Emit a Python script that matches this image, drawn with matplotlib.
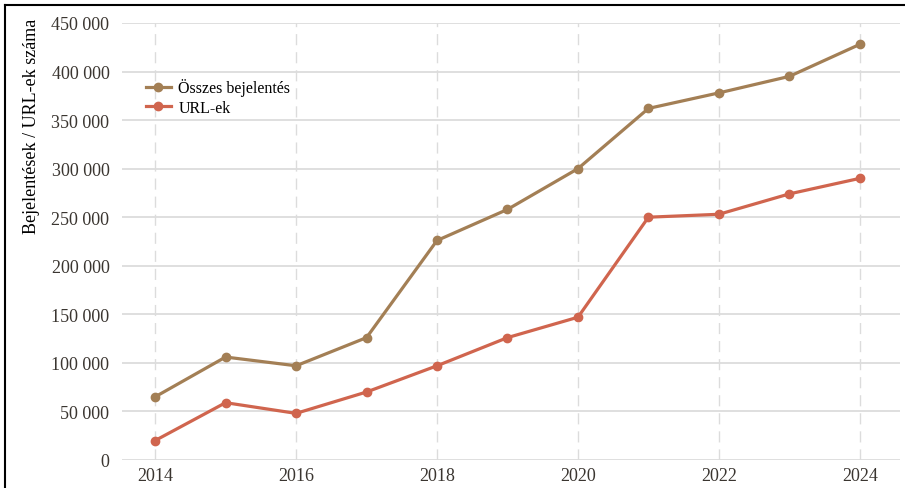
import matplotlib.pyplot as plt
from matplotlib.lines import Line2D
from matplotlib.ticker import FuncFormatter

# Yearly counts
years = [2014, 2015, 2016, 2017, 2018, 2019, 2020, 2021, 2022, 2023, 2024]
osszes = [65000, 106000, 97000, 126000, 226000, 258000, 300000, 362000,
          378000, 395000, 428000]
url_ek = [20000, 59000, 48000, 70000, 97000, 126000, 147000, 250000,
          253000, 274000, 290000]
x_ticks = [2014, 2016, 2018, 2020, 2022, 2024]
y_ticks = [0, 50000, 100000, 150000, 200000, 250000, 300000, 350000,
           400000, 450000]


def space_thousands(value, pos):
    """Format a number with a space as the thousands separator"""
    return "{:,.0f}".format(value).replace(",", " ")


plt.rcParams["font.family"] = ["Liberation Serif", "DejaVu Serif"]

fig = plt.figure(figsize=(9.05, 4.89), dpi=100)
ax = fig.add_axes([0.1348, 0.0573, 0.8597, 0.8937])

ax.plot(years, osszes, color="#A37F55", linewidth=2.3, marker="o",
        markersize=6, label="Összes bejelentés", zorder=3)
ax.plot(years, url_ek, color="#D0654E", linewidth=2.3, marker="o",
        markersize=6, label="URL-ek", zorder=3)

ax.set_xlim(2013.53, 2024.57)
ax.set_ylim(0, 450000)
ax.set_xticks(x_ticks)
ax.set_yticks(y_ticks)
ax.yaxis.set_major_formatter(FuncFormatter(space_thousands))

# Horizontal grid solid, vertical grid dashed
ax.grid(axis="y", color="#dcdcdc", linewidth=1.3, linestyle="-")
ax.grid(axis="x", color="#dcdcdc", linewidth=1.0, linestyle=(0, (8, 5)))
ax.set_axisbelow(True)
for side in ["top", "right", "bottom", "left"]:
    ax.spines[side].set_visible(False)

ax.tick_params(axis="both", length=0, labelsize=13, colors="#3a3530")
ax.tick_params(axis="x", pad=5)
ax.tick_params(axis="y", pad=9)
ax.set_ylabel("Bejelentések / URL-ek száma", fontsize=13, color="black")
ax.yaxis.set_label_coords(-0.106, 0.765)

ax.legend(loc="upper left", bbox_to_anchor=(0.01, 0.91), frameon=False,
          fontsize=11.5, handlelength=1.55, handletextpad=0.5,
          labelspacing=0.22, borderaxespad=0.6)

# Border lines on the top and left edges of the picture
fig.add_artist(Line2D([0.0055, 1.0], [0.987, 0.987], color="black",
                      linewidth=1.5, transform=fig.transFigure))
fig.add_artist(Line2D([0.0055, 0.0055], [0.0, 0.987], color="black",
                      linewidth=1.5, transform=fig.transFigure))

fig.savefig("out.png", dpi=100)
